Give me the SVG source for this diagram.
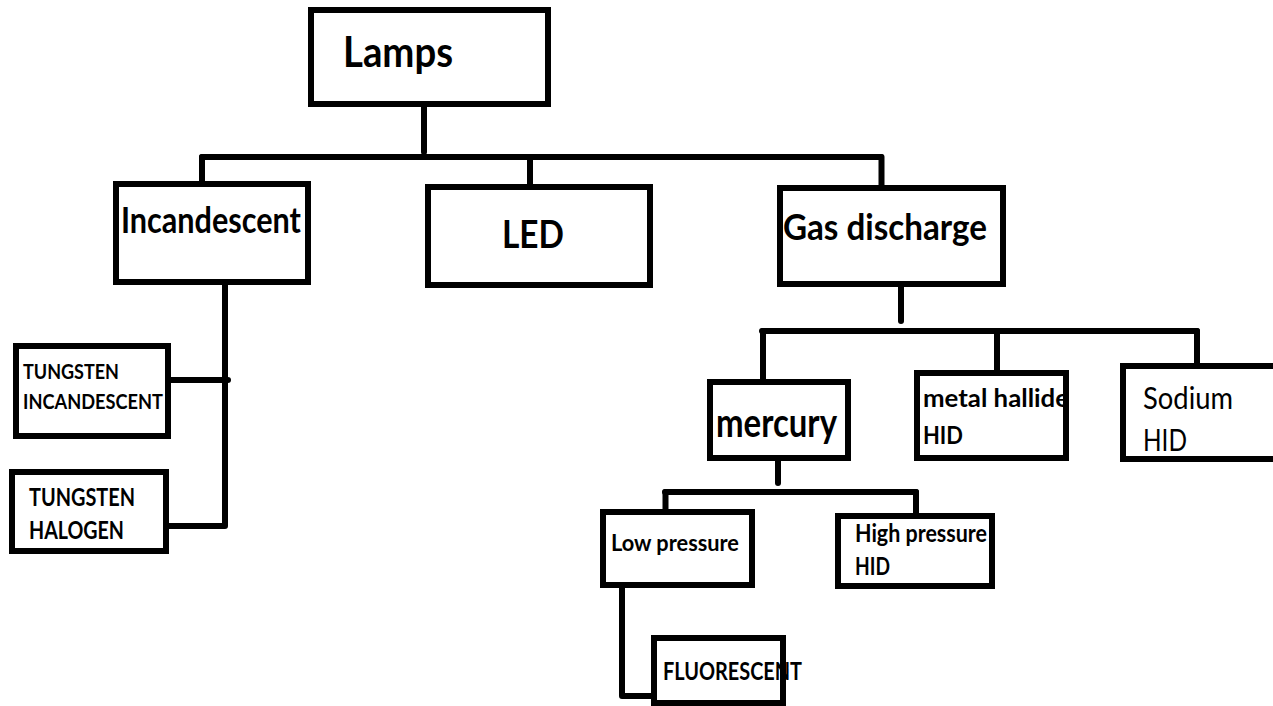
<svg xmlns="http://www.w3.org/2000/svg" width="1273" height="706" viewBox="0 0 1273 706">
<style>
.box{fill:none;stroke:#000;stroke-width:6}
.t{font-family:Lato,"Open Sans","Liberation Sans",sans-serif;font-weight:bold;fill:#000}
.r{font-family:Lato,"Open Sans","Liberation Sans",sans-serif;font-weight:normal;fill:#000}
.c{fill:none;stroke:#000;stroke-width:6;stroke-linecap:round;stroke-linejoin:round}
</style>
<rect width="1273" height="706" fill="#fff"/>
<g id="connectors">
<path class="c" d="M424 107 V152"/>
<path class="c" d="M202 157 H881"/>
<path class="c" d="M202 157 V181"/>
<path class="c" d="M530 157 V184"/>
<path class="c" d="M881.5 157 V185"/>
<path class="c" d="M225 285 V526 H166"/>
<path class="c" d="M171 380 H228"/>
<path class="c" d="M901 287 V321"/>
<path class="c" d="M762 331 H1197"/>
<path class="c" d="M763 331 V379"/>
<path class="c" d="M997 331 V370"/>
<path class="c" d="M1197 331 V363"/>
<path class="c" d="M778 461 V483"/>
<path class="c" d="M665 492 H916"/>
<path class="c" d="M665.5 492 V509"/>
<path class="c" d="M916 492 V513"/>
<path class="c" d="M622 588 V696 H651"/>
</g>
<g id="lamps">
<text class="t" x="343" y="67" font-size="42" textLength="110" lengthAdjust="spacingAndGlyphs">Lamps</text>
<rect class="box" x="311" y="10" width="237" height="94"/>
</g>
<g id="incandescent">
<text class="t" x="121" y="233" font-size="36" textLength="180" lengthAdjust="spacingAndGlyphs">Incandescent</text>
<rect class="box" x="116" y="184" width="192" height="98"/>
</g>
<g id="led">
<text class="t" x="502" y="248" font-size="39" textLength="62" lengthAdjust="spacingAndGlyphs">LED</text>
<rect class="box" x="428" y="187" width="222" height="98"/>
</g>
<g id="gas-discharge">
<text class="t" x="783" y="240" font-size="36" textLength="204" lengthAdjust="spacingAndGlyphs">Gas discharge</text>
<rect class="box" x="780" y="188" width="223" height="96"/>
</g>
<g id="tungsten-incandescent">
<text class="t" x="23" y="379" font-size="21" textLength="96" lengthAdjust="spacingAndGlyphs">TUNGSTEN</text>
<text class="t" x="23" y="409" font-size="21" textLength="140" lengthAdjust="spacingAndGlyphs">INCANDESCENT</text>
<rect class="box" x="16" y="346" width="152" height="90"/>
</g>
<g id="tungsten-halogen">
<text class="t" x="29" y="506" font-size="24" textLength="106" lengthAdjust="spacingAndGlyphs">TUNGSTEN</text>
<text class="t" x="29" y="539" font-size="24" textLength="95" lengthAdjust="spacingAndGlyphs">HALOGEN</text>
<rect class="box" x="12" y="472" width="154" height="79"/>
</g>
<g id="mercury">
<text class="t" x="716" y="437" font-size="41" textLength="121" lengthAdjust="spacingAndGlyphs">mercury</text>
<rect class="box" x="710" y="382" width="138" height="76"/>
</g>
<g id="metal-hallide">
<text class="t" x="923" y="407" font-size="24" textLength="146" lengthAdjust="spacingAndGlyphs">metal hallide</text>
<text class="t" x="923" y="444" font-size="24" textLength="40" lengthAdjust="spacingAndGlyphs">HID</text>
<rect class="box" x="917" y="373" width="149" height="85"/>
</g>
<g id="sodium">
<text class="r" x="1143" y="409" font-size="31" textLength="90" lengthAdjust="spacingAndGlyphs">Sodium</text>
<text class="r" x="1143" y="451" font-size="31" textLength="44" lengthAdjust="spacingAndGlyphs">HID</text>
<rect class="box" x="1123" y="366" width="160" height="93"/>
</g>
<g id="low-pressure">
<text class="t" x="611" y="551" font-size="22" textLength="128" lengthAdjust="spacingAndGlyphs">Low pressure</text>
<rect class="box" x="603" y="512" width="149" height="73"/>
</g>
<g id="high-pressure">
<text class="t" x="855" y="542" font-size="24" textLength="132" lengthAdjust="spacingAndGlyphs">High pressure</text>
<text class="t" x="855" y="575" font-size="24" textLength="35" lengthAdjust="spacingAndGlyphs">HID</text>
<rect class="box" x="838" y="516" width="154" height="70"/>
</g>
<g id="fluorescent">
<text class="t" x="663" y="680" font-size="24" textLength="139" lengthAdjust="spacingAndGlyphs">FLUORESCENT</text>
<rect class="box" x="654" y="638" width="129" height="65"/>
</g>
</svg>
